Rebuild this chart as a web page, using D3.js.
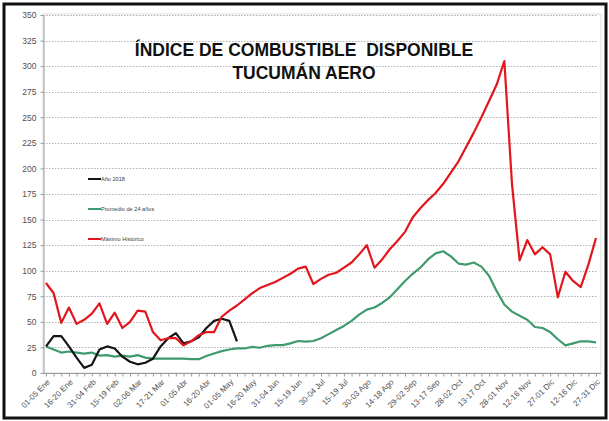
<!DOCTYPE html>
<html lang="es">
<head>
<meta charset="UTF-8">
<title>Índice de Combustible Disponible - Tucumán Aero</title>
<script src="https://d3js.org/d3.v7.min.js"></script>
<style>
    body { margin: 0; background: #ffffff; }
    svg { display: block; font-family: Arial, "Liberation Sans", sans-serif; }
    .grid line { stroke: #b0b0b0; stroke-width: 1; stroke-dasharray: 1.5,1.5; }
    .axis path, .axis line { stroke: #9a9a9a; }
    .axis text { fill: #505050; }
</style>
</head>
<body>
<div id="chart"></div>
<script>
    // every third 5-day period gets a label on the x axis (73 periods in the year)
    const tickLabels = [
        '01-05 Ene', '16-20 Ene', '31-04 Feb', '15-19 Feb', '02-06 Mar', '17-21 Mar',
        '01-05 Abr', '16-20 Abr', '01-05 May', '16-20 May', '31-04 Jun', '15-19 Jun',
        '30-04 Jul', '15-19 Jul', '30-03 Ago', '14-18 Ago', '29-02 Sep', '13-17 Sep',
        '28-02 Oct', '13-17 Oct', '28-01 Nov', '12-16 Nov', '27-01 Dic', '12-16 Dic', '27-31 Dic'
    ];
    const yTicks = [0, 25, 50, 75, 100, 125, 150, 175, 200, 225, 250, 275, 300, 325, 350];

    const anio2018 = [26, 36, 36, 26, 15, 5, 8, 23, 26, 24, 16, 11, 8.5, 10, 14, 26, 34, 39, 29, 31,
        35, 44, 51, 53, 51, 31];

    const promedio = [26, 23, 20, 21, 20, 19, 20, 17, 17.5, 16, 17, 16, 17.5, 15, 14, 14, 14, 14, 14, 13.5,
        13.5, 16.6, 19, 21.4, 23, 24, 24, 25.6, 24.7, 26.6, 27.3, 27.3, 29, 31.3, 30.6, 31.3, 34, 38, 42, 46,
        51, 57, 62, 64, 68.5, 74, 82, 90, 97, 103, 111, 117, 119, 114, 107, 106, 108, 104, 95, 80,
        67, 60, 56, 52, 45, 44, 40, 33, 27, 29, 31, 31, 30];

    const maximo = [88, 78, 49, 64, 48, 52, 58, 68, 48, 59, 44, 50, 61, 60, 40, 32, 34, 34, 27, 31,
        37, 40, 40, 55, 61, 66, 72, 78, 83, 86, 89, 93, 97, 102, 104, 87, 92, 96, 98, 103,
        108, 116, 125, 103, 111, 121, 129, 138, 152, 161, 169, 176, 185, 196, 207, 221, 235, 250, 266, 282,
        305, 185, 110, 130, 116, 123, 116, 74, 99, 90, 84, 106, 132];

    const series = [
        { name: 'Promedio de 24 años', values: promedio, color: '#3f9a6e' },
        { name: 'Año 2018', values: anio2018, color: '#151515' },
        { name: 'Máximo Histórico', values: maximo, color: '#e3151d' }
    ];

    const width = 609, height = 421;
    const plot = { left: 43, right: 601, top: 15, bottom: 373 };

    const svg = d3.select('#chart').append('svg')
        .attr('width', width)
        .attr('height', height);

    svg.append('rect')
        .attr('width', width).attr('height', height)
        .attr('fill', '#ffffff');

    const periods = d3.range(maximo.length);
    const x = d3.scalePoint().domain(periods).range([46, 596]);
    const y = d3.scaleLinear().domain([0, 350]).range([plot.bottom, plot.top]);

    // plot area border
    svg.append('rect')
        .attr('x', plot.left).attr('y', plot.top - 1)
        .attr('width', plot.right - plot.left).attr('height', plot.bottom - plot.top + 1)
        .attr('fill', 'none')
        .attr('stroke', '#dcdcdc');

    // horizontal dotted grid
    svg.append('g').attr('class', 'grid')
        .selectAll('line')
        .data(yTicks.filter(d => d > 0))
        .join('line')
        .attr('x1', plot.left).attr('x2', plot.right - 3)
        .attr('y1', d => Math.round(y(d)) + 0.5)
        .attr('y2', d => Math.round(y(d)) + 0.5);

    const yAxis = svg.append('g').attr('class', 'axis')
        .attr('transform', `translate(${plot.left + 0.5},0)`)
        .call(d3.axisLeft(y).tickValues(yTicks).tickSize(3).tickPadding(4).tickSizeOuter(0));
    yAxis.selectAll('text').style('font-size', '8.5px');

    const xAxis = svg.append('g').attr('class', 'axis')
        .attr('transform', `translate(0,${plot.bottom + 0.5})`)
        .call(d3.axisBottom(x).tickSize(3).tickSizeOuter(0)
            .tickFormat(i => i % 3 === 0 ? tickLabels[i / 3] : ''));
    xAxis.select('.domain').attr('d', `M${plot.left},0H${plot.right}`);
    xAxis.selectAll('text')
        .style('font-size', '8px')
        .attr('text-anchor', 'end')
        .attr('y', 0)
        .attr('dy', 0)
        .attr('transform', 'translate(4,9) rotate(-45)');

    const line = d3.line()
        .x((d, i) => x(i))
        .y(d => y(d));

    svg.append('g')
        .selectAll('path')
        .data(series)
        .join('path')
        .attr('d', d => line(d.values))
        .attr('fill', 'none')
        .attr('stroke', d => d.color)
        .attr('stroke-width', 2.2)
        .attr('stroke-linejoin', 'round');

    // legend, in the order it is shown on the chart
    const legendOrder = [series[1], series[0], series[2]];
    const legend = svg.append('g')
        .selectAll('g')
        .data(legendOrder)
        .join('g')
        .attr('transform', (d, i) => `translate(88,${179 + i * 30})`);

    legend.append('line')
        .attr('x1', 0).attr('x2', 13)
        .attr('stroke', d => d.color)
        .attr('stroke-width', 2);

    legend.append('text')
        .attr('x', 13).attr('dy', '0.35em')
        .style('font-size', '5.6px')
        .attr('fill', '#404040')
        .text(d => d.name);

    const title = svg.append('g')
        .attr('font-weight', 'bold')
        .attr('fill', '#111')
        .attr('text-anchor', 'middle');

    title.append('text')
        .attr('x', 304).attr('y', 56)
        .style('font-size', '17.5px')
        .style('white-space', 'pre')
        .text('ÍNDICE DE COMBUSTIBLE  DISPONIBLE');

    title.append('text')
        .attr('x', 304).attr('y', 79)
        .style('font-size', '17.5px')
        .text('TUCUMÁN AERO');

    // outer frame
    svg.append('rect')
        .attr('x', 4).attr('y', 4)
        .attr('width', 602).attr('height', 414)
        .attr('fill', 'none')
        .attr('stroke', '#111')
        .attr('stroke-width', 3);
</script>
</body>
</html>
